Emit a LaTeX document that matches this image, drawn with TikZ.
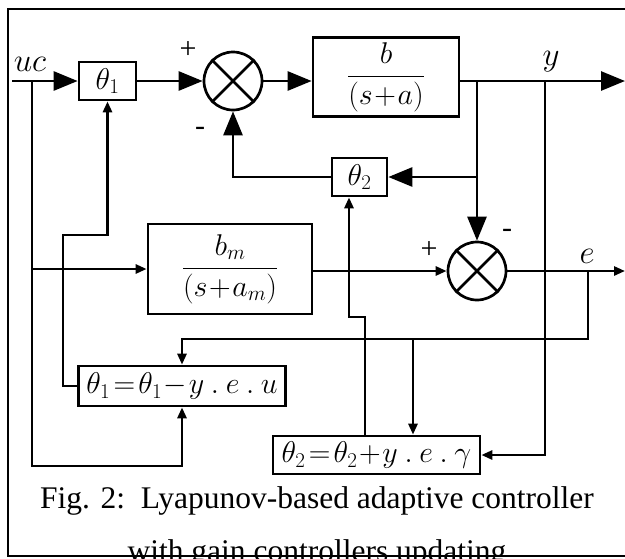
\documentclass[tikz,border=0pt]{standalone}
\usepackage{fix-cm}
\usepackage{amsmath}
\usepackage{fontspec}
\setmainfont{Liberation Serif}
\usetikzlibrary{arrows.meta}
\tikzset{
  mtxt/.style={font=\fontsize{30pt}{34pt}\selectfont},
  lbl/.style={font=\fontsize{33pt}{36pt}\selectfont, inner sep=0pt},
  blk/.style={draw, rectangle, inner sep=0pt, mtxt},
  sumc/.style={draw, circle, minimum size=58pt, inner sep=0pt},
  big/.style={-{Triangle[length=24pt,width=19pt]}},
  small/.style={-{Triangle[length=11pt,width=9pt]}},
  sgn/.style={font=\fontsize{30pt}{34pt}\selectfont, inner sep=0pt},
  captxt/.style={anchor=base, inner sep=0pt, font=\fontsize{31.5pt}{34pt}\selectfont}
}
\begin{document}
\begin{tikzpicture}[x=1pt, y=-1pt, line width=2.7pt]
\useasboundingbox (0,0) rectangle (625,558);
% frame
\draw[line width=1.6pt] (625,9) -- (8,9) -- (8,556) -- (625,556);
% blocks
\node[blk, minimum width=57pt, minimum height=38pt] (th1) at (107.5,81) {$\theta_1$};
\node[sumc] (s1) at (233,81) {};
\draw (s1.north west) -- (s1.south east) (s1.north east) -- (s1.south west);
\node[blk, minimum width=146pt, minimum height=79pt] (plant) at (386,77) {$\dfrac{b}{(s\!+\!a)}$};
\node[blk, minimum width=55pt, minimum height=38pt] (th2) at (359.5,177) {$\theta_2$};
\node[blk, minimum width=164pt, minimum height=90pt] (model) at (230,269) {$\dfrac{b_m}{(s\!+\!a_m)}$};
\node[sumc] (s2) at (477,271) {};
\draw (s2.north west) -- (s2.south east) (s2.north east) -- (s2.south west);
\node[blk, minimum width=207pt, minimum height=40pt] (up1) at (182,386) {$\theta_1\!=\!\theta_1\!-\!y\:.\:e\:.\:u$};
\node[blk, minimum width=207pt, minimum height=38pt] (up2) at (376.5,455) {$\theta_2\!=\!\theta_2\!+\!y\:.\:e\:.\:\gamma$};
% coordinates
\coordinate (in) at (12,81);
\coordinate (j0) at (32,81);
\coordinate (out) at (625,81);
\coordinate (jy1) at (477,81);
\coordinate (jy2) at (545,81);
\coordinate (lb) at (32,466);
\coordinate (eout) at (625,271);
\coordinate (je) at (588,271);
\coordinate (je2) at (588,339);
\coordinate (jk) at (413,339);
\coordinate (c1) at (63,235);
\coordinate (c2) at (107.5,235);
\coordinate (d1) at (365,317);
\coordinate (d2) at (349,317);
% main loop
\draw[big] (in) -- (th1.west);
\draw[big] (th1.east) -- (s1.west);
\draw[big] (s1.east) -- (s1.east -| plant.west);
\draw[big] (s1.east -| plant.east) -- (out);
\draw[big] (jy1) -- (s2.north);
\draw[big] (jy1 |- th2.east) -- (th2.east);
\draw[big] (th2.west) -- (th2.west -| s1.south) -- (s1.south);
% reference model and error
\draw[small] (j0 |- model.west) -- (model.west);
\draw[small] (model.east |- s2.west) -- (s2.west);
\draw[small] (s2.east) -- (eout);
% adaptation
\draw[small] (j0) -- (lb) -- (lb -| up1.south) -- (up1.south);
\draw[small] (je) -- (je2) -- (je2 -| up1.north) -- (up1.north);
\draw[small] (jk) -- (jk |- up2.north);
\draw[small] (jy2) -- (jy2 |- up2.east) -- (up2.east);
\draw[small] (up1.west) -- (up1.west -| c1) -- (c1) -- (c2) -- (th1.south);
\draw[small] (up2.north -| d1) -- (d1) -- (d2) -- (d2 |- th2.south);
% labels
\node[lbl] (luc) at (30,64) {$uc$};
\node[sgn] (p1) at (188,50) {+};
\node[sgn] (m1) at (200,131) {-};
\node[lbl] (ly) at (551,62) {$y$};
\node[sgn] (p2) at (429,250) {+};
\node[sgn] (m2) at (507,233) {-};
\node[lbl] (le) at (587,256) {$e$};
% caption
\node[captxt] (cap1) at (317,508) {Fig. 2:\ \ Lyapunov-based adaptive controller};
\node[captxt] (cap2) at (317,561) {with gain controllers updating};
\end{tikzpicture}
\end{document}
